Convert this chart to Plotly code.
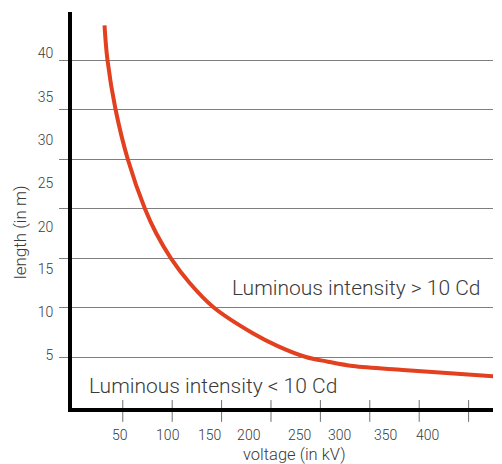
import plotly.graph_objects as go

# Curve (voltage in kV, length in m)
voltage_kv = [31.5, 34.5, 42.7, 55.0, 72.3, 83.8, 98.6, 117.5, 142.1, 181.6,
              206.9, 235.3, 257.5, 282.8, 333.4, 366.8, 434.2]
length_m = [38.5, 35.0, 30.0, 25.0, 20.0, 17.5, 15.0, 12.5, 10.0, 7.4,
            6.1, 5.0, 4.53, 4.09, 3.70, 3.46, 2.98]

x_tick_values = [50, 100, 150, 200, 250, 300, 350, 400]
x_tick_labels = ["50", "100", "150", "200", "250", "300", "350", "400"]
y_grid_values = [5, 10, 15, 20, 25, 30, 35]
y_tick_labels = ["5", "10", "15", "20", "25", "30", "35", "40"]

# where the (misaligned) labels sit in the reference, in axis units
x_label_pos = [47, 95.5, 138, 177.5, 229, 269.5, 316, 358.5]
y_label_pos = [5.2, 9.55, 13.9, 18.1, 22.6, 26.9, 31.3, 35.7]

FONT = "Roboto"
TXT = "#3a3a3a"
GRID = "#7f7f7f"

fig = go.Figure()
fig.add_trace(go.Scatter(
    x=voltage_kv, y=length_m, mode="lines",
    line=dict(color="#e2401f", width=4, shape="spline", smoothing=1.0),
    hoverinfo="skip", showlegend=False))

shapes = []
for v in x_tick_values:
    shapes.append(dict(type="line", xref="x", yref="paper", x0=v, x1=v,
                       y0=-0.035, y1=0.02, line=dict(color="#707070", width=1),
                       layer="below"))

fig.update_layout(
    width=502, height=464,
    margin=dict(l=72, r=9, t=12, b=56),
    paper_bgcolor="white", plot_bgcolor="white",
    font=dict(family=FONT, color=TXT, size=14),
    showlegend=False,
    shapes=shapes,
    xaxis=dict(
        range=[-1.4, 424.7], showgrid=False, zeroline=False, automargin=False,
        showline=True, linewidth=4, linecolor="black",
        tickmode="array", tickvals=x_label_pos, ticktext=x_tick_labels,
        ticks="outside", ticklen=11, tickcolor="rgba(0,0,0,0)",
        tickfont=dict(family=FONT, size=14, color=TXT, weight=300),
    ),
    yaxis=dict(
        range=[-0.15, 39.85], showgrid=False, zeroline=False, automargin=False,
        showline=True, linewidth=4, linecolor="black",
        tickmode="array", tickvals=y_label_pos, ticktext=y_tick_labels,
        ticks="outside", ticklen=12, tickcolor="rgba(0,0,0,0)",
        tickfont=dict(family=FONT, size=14, color=TXT, weight=300),
        minor=dict(tickmode="array", tickvals=y_grid_values, showgrid=True,
                   gridcolor=GRID, gridwidth=1, ticks="outside", ticklen=9,
                   tickcolor=GRID, tickwidth=1),
    ),
    annotations=[
        dict(text="Luminous intensity > 10 Cd", x=285.8, y=11.97, xref="x", yref="y",
             showarrow=False, xanchor="center", yanchor="middle",
             font=dict(family=FONT, size=21, color=TXT, weight=300)),
        dict(text="Luminous intensity < 10 Cd", x=141.1, y=2.07, xref="x", yref="y",
             showarrow=False, xanchor="center", yanchor="middle",
             font=dict(family=FONT, size=21, color=TXT, weight=300)),
        # axis titles
        dict(text="voltage (in kV)", x=0.5285, y=-0.1175, xref="paper", yref="paper",
             showarrow=False, xanchor="center", yanchor="middle",
             font=dict(family=FONT, size=16.5, color=TXT, weight=300)),
        dict(text="length (in m)", x=-0.1235, y=0.444, xref="paper", yref="paper",
             showarrow=False, xanchor="center", yanchor="middle", textangle=-90,
             font=dict(family=FONT, size=17, color=TXT, weight=300)),
    ],
)

fig.write_html("out.html", config={"displayModeBar": False},
               post_script="document.body.style.margin='0px';")
